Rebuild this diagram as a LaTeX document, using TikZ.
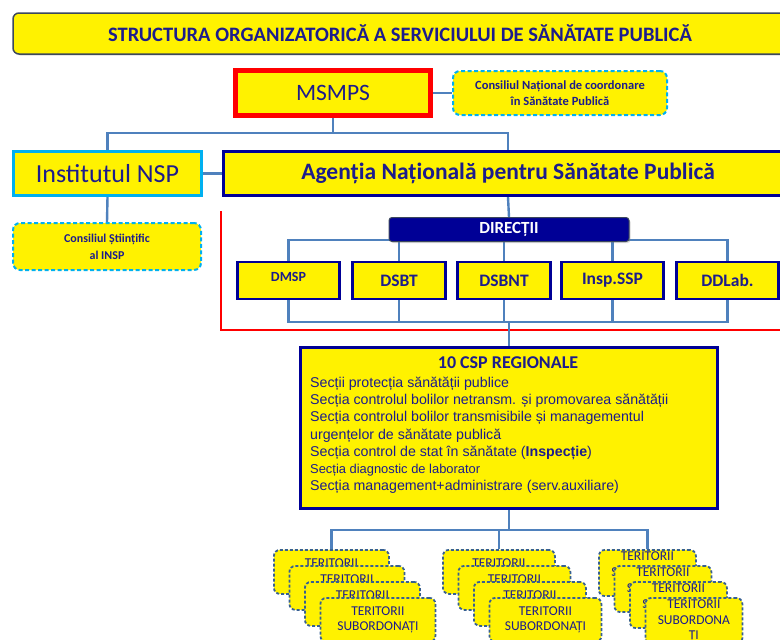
\documentclass[tikz,border=0pt]{standalone}
\usepackage{fontspec}
\setmainfont{Carlito}
\newfontfamily\arialfont{Liberation Sans}
\usetikzlibrary{shadows}
\usetikzlibrary{backgrounds}
\definecolor{txtblue}{RGB}{28,28,140}
\definecolor{skyblue}{RGB}{0,176,240}
\definecolor{navyb}{RGB}{0,0,150}
\definecolor{slate}{RGB}{60,72,92}
\definecolor{lineblue}{RGB}{79,129,189}
\definecolor{stackblue}{RGB}{55,96,146}

\begin{document}
\begin{tikzpicture}[x=1pt, y=-1pt,
  box/.style={fill=yellow, text=txtblue, inner sep=2pt, align=center},
  dashbox/.style={box, draw=skyblue, line width=2pt, dash pattern=on 4pt off 2.5pt, rounded corners=7pt, font=\bfseries\fontsize{12.5}{16}\selectfont},
  dirbox/.style={box, draw=navyb, line width=2.5pt, minimum height=37, font=\bfseries\fontsize{17.5}{19}\selectfont},
  terit/.style={box, draw=stackblue, line width=1.8pt, dash pattern=on 3pt off 2pt, rounded corners=6pt, minimum height=44, font=\fontsize{13.5}{15.5}\selectfont},
  conn/.style={draw=lineblue, line width=2.4pt}]
\useasboundingbox (0,0) rectangle (780,640);

\node[box, draw=slate, line width=1.5pt, rounded corners=6pt, minimum width=774, minimum height=41, drop shadow={opacity=0.3, shadow xshift=1.5pt, shadow yshift=-1.5pt}, font=\bfseries\fontsize{20.5}{22}\selectfont] (title) at (400,33.5) {STRUCTURA ORGANIZATORICĂ A SERVICIULUI DE SĂNĂTATE PUBLICĂ};
\node[box, draw=red, line width=5pt, minimum width=195, minimum height=45, font=\fontsize{23.5}{26}\selectfont] (msmps) at (333,93) {MSMPS};
\node[dashbox, minimum width=214, minimum height=44] (cnsp) at (560,93) {Consiliul Național de coordonare\\în Sănătate Publică};
\node[box, draw=skyblue, line width=3pt, minimum width=188, minimum height=44, font=\fontsize{26}{28}\selectfont] (insp) at (107.5,173.5) {Institutul NSP};
\node[box, draw=navyb, line width=3pt, minimum width=569, minimum height=44, font=\bfseries\fontsize{23.5}{26}\selectfont] (ansp) at (508,173.5) {Agenția Națională pentru Sănătate Publică};
\node[dashbox, minimum width=188, minimum height=47, font=\bfseries\fontsize{12}{17}\selectfont] (csinsp) at (107,246.5) {Consiliul Științific\\al INSP};

\node[fill=navyb, draw=slate, line width=1pt, rounded corners=3pt, minimum width=240, minimum height=24, inner sep=0pt, text=white, drop shadow={opacity=0.3, shadow xshift=1.5pt, shadow yshift=-1.5pt}, font=\bfseries\fontsize{17}{18}\selectfont] (dir) at (509,229.5) {DIRECȚII};
\node[dirbox, minimum width=102, font=\bfseries\fontsize{14}{16}\selectfont] (dmsp) at (288.5,280.5) {\raisebox{8pt}{DMSP}};
\node[dirbox, minimum width=93] (dsbt) at (399,280.5) {DSBT};
\node[dirbox, minimum width=93] (dsbnt) at (504,280.5) {DSBNT};
\node[dirbox, minimum width=102] (ispssp) at (612.5,280.5) {Insp.SSP};
\node[dirbox, minimum width=102] (ddlab) at (727.5,280.5) {DDLab.};

\node[box, draw=navyb, line width=3pt, minimum width=417, minimum height=161] (csp) at (509,428) {};
\node[text=txtblue, font=\bfseries\fontsize{18}{20}\selectfont] (csptit) at (508,363) {10 CSP REGIONALE};
\node[anchor=north west, align=left, inner sep=0pt, text=txtblue, font=\arialfont\fontsize{14.2}{17.3}\selectfont] (csptxt) at (310,376.5) {Secții protecția sănătății publice\\
Secția controlul bolilor netransm. și promovarea sănătății\\
Secția controlul bolilor transmisibile și managementul\\
urgențelor de sănătate publică\\
Secția control de stat în sănătate (\textbf{Inspecție})\\
\fontsize{12.9}{17.3}\selectfont Secția diagnostic de laborator\\
\fontsize{14.2}{17.3}\selectfont Secția management+administrare (serv.auxiliare)};

% teritorii subordonati
\foreach \sx/\sw/\txt [count=\k] in {273/115/{TERITORII\\SUBORDONAȚI}, 442/112/{TERITORII\\SUBORDONAȚI}, 598/97/{TERITORII\\SUBORDONA\\ȚI}}
  \foreach \i in {0,...,3}
    \node[terit, minimum width=\sw, anchor=north west] (s\k-\i) at (\sx+15.5*\i, 549+16*\i) {\txt};

\begin{pgfonlayer}{background}
\draw[red, line width=1.2pt] (221,211) |- (780,330);
\draw[conn] (msmps.south) -- ++(0,15) coordinate (b1) -| (insp.north);
\draw[conn] (b1) -| (ansp.north);
\draw[conn] (msmps.east) -- (cnsp.west);
\draw[conn] (insp.east) -- (ansp.west);
\draw[conn] (insp.south) -- (csinsp.north);
\draw[conn] (ansp.south) -- (dir.north);
\coordinate (bbus) at (509,322);
\foreach \b in {dmsp,dsbt,dsbnt,ispssp,ddlab} {
  \draw[conn] ([yshift=2pt]dir.south) -| (\b.north);
  \draw[conn] (\b.south) |- (bbus);
}
\draw[conn] (bbus) -- (csp.north);
\draw[conn] (csp.south) -- ++(0,20) coordinate (sbus);
\foreach \k in {1,2,3}
  \draw[conn] (sbus) -| (s\k-0.north);
\end{pgfonlayer}
\end{tikzpicture}
\end{document}
